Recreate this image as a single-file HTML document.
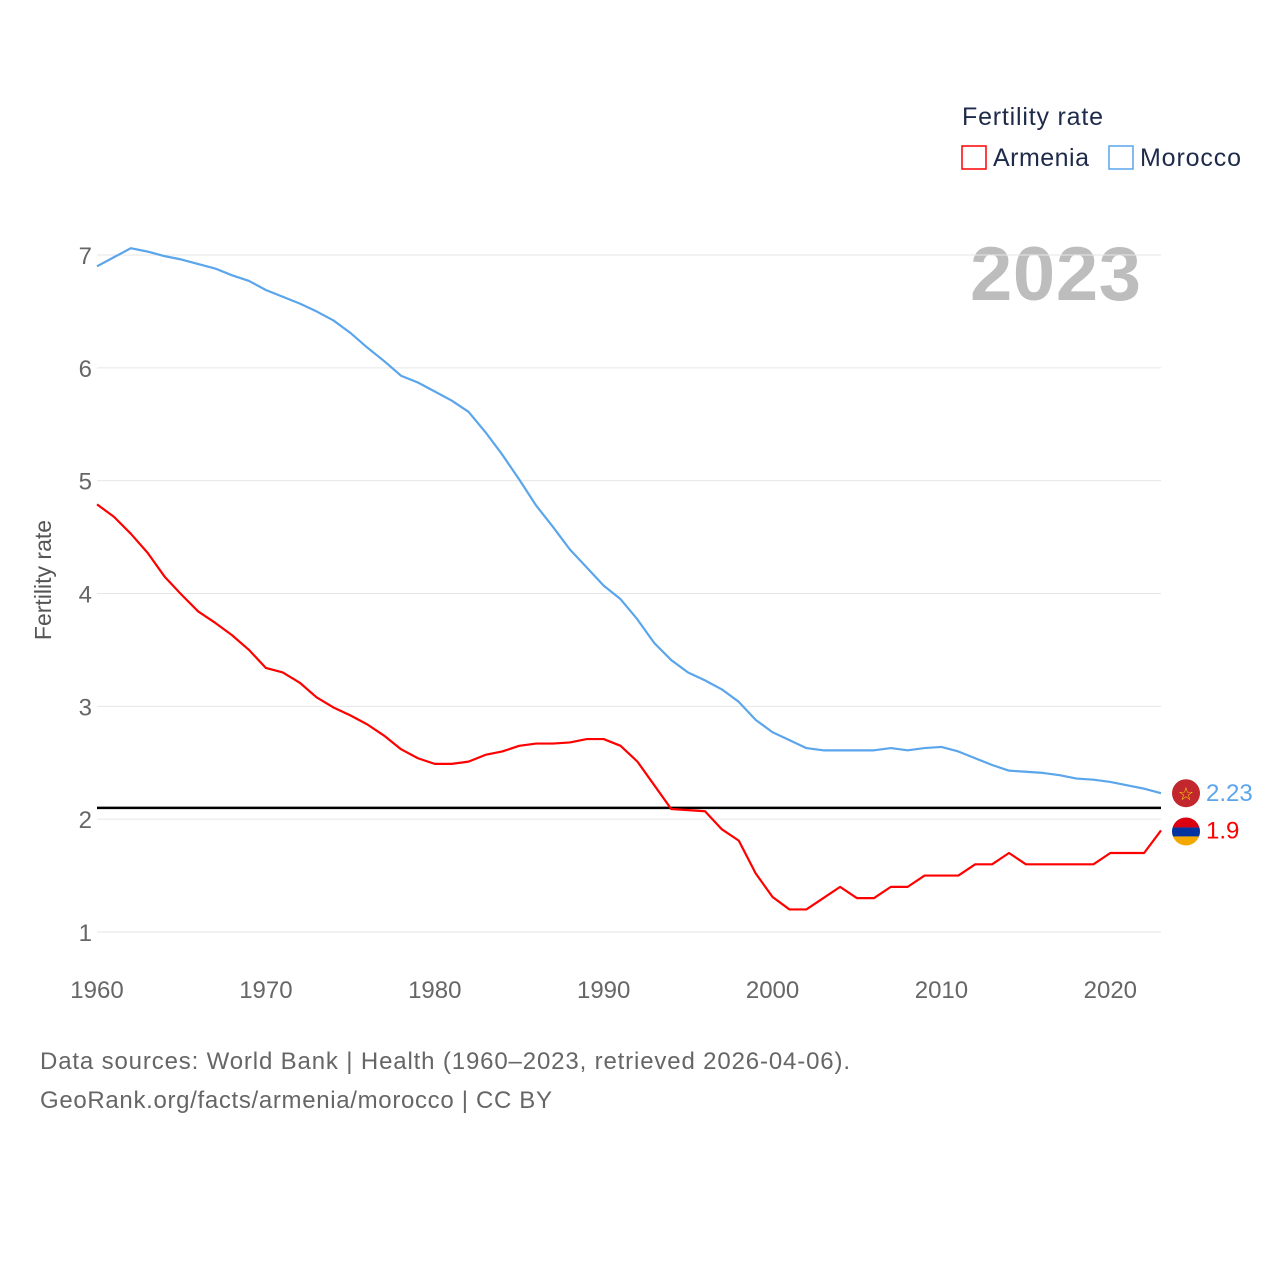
<!DOCTYPE html>
<html><head><meta charset="utf-8"><style>
body{margin:0;background:#fff;font-family:"Liberation Sans",sans-serif}
svg text{font-family:"Liberation Sans",sans-serif}
</style></head><body>
<svg id="chart" width="1280" height="1280" viewBox="0 0 1280 1280">
<text x="962" y="125" font-size="25" fill="#1d2a4a" textLength="141">Fertility rate</text>
<rect x="962" y="146" width="24" height="23" fill="none" stroke="#f00" stroke-width="1.5"/>
<text x="993" y="166" font-size="25" fill="#1d2a4a" textLength="96">Armenia</text>
<rect x="1109" y="146" width="24" height="23" fill="none" stroke="#5aa5eb" stroke-width="1.5"/>
<text x="1140" y="166" font-size="25" fill="#1d2a4a" textLength="101">Morocco</text>
<text x="970" y="300" font-size="76" font-weight="bold" fill="#bdbdbd" textLength="171">2023</text>
<text transform="translate(51,580) rotate(-90)" font-size="23" fill="#555" text-anchor="middle">Fertility rate</text>
<g id="grid"></g><g id="series"></g>
<text x="40" y="1069" font-size="24" fill="#666" textLength="810">Data sources: World Bank | Health (1960–2023, retrieved 2026-04-06).</text>
<text x="40" y="1108" font-size="24" fill="#666" textLength="512">GeoRank.org/facts/armenia/morocco | CC BY</text>
</svg>
<script>
const years=[];for(let y=1960;y<=2023;y++)years.push(y);
const armenia=[4.79,4.68,4.53,4.36,4.15,3.99,3.84,3.74,3.63,3.50,3.34,3.30,3.21,3.08,2.99,2.92,2.84,2.74,2.62,2.54,2.49,2.49,2.51,2.57,2.60,2.65,2.67,2.67,2.68,2.71,2.71,2.65,2.51,2.30,2.09,2.08,2.07,1.91,1.81,1.52,1.31,1.20,1.20,1.30,1.40,1.30,1.30,1.40,1.40,1.50,1.50,1.50,1.60,1.60,1.70,1.60,1.60,1.60,1.60,1.60,1.70,1.70,1.70,1.90];
const morocco=[6.90,6.98,7.06,7.03,6.99,6.96,6.92,6.88,6.82,6.77,6.69,6.63,6.57,6.50,6.42,6.31,6.18,6.06,5.93,5.87,5.79,5.71,5.61,5.43,5.23,5.01,4.78,4.59,4.39,4.23,4.07,3.95,3.77,3.56,3.41,3.30,3.23,3.15,3.04,2.88,2.77,2.70,2.63,2.61,2.61,2.61,2.61,2.63,2.61,2.63,2.64,2.60,2.54,2.48,2.43,2.42,2.41,2.39,2.36,2.35,2.33,2.30,2.27,2.23];
const yTicks=[1,2,3,4,5,6,7];
const xTicks=[1960,1970,1980,1990,2000,2010,2020];
const replacement=2.1;
const X=y=>97+(y-1960)*(1161-97)/63;
const Y=v=>932-(v-1)*(932-255)/6;
const NS="http://www.w3.org/2000/svg";
function mk(t,a,p){const e=document.createElementNS(NS,t);for(const k in a)e.setAttribute(k,a[k]);p.appendChild(e);return e;}
const g=document.getElementById('grid'),s=document.getElementById('series');
yTicks.forEach(v=>{
 const l=mk('line',{x1:97,x2:1161,y1:Y(v),y2:Y(v),stroke:'#e6e6e6','stroke-width':1},g);
 
 
 const t=mk('text',{x:92,y:Y(v)+9,'font-size':24,fill:'#666','text-anchor':'end'},g);t.textContent=v;
 
 
});
xTicks.forEach(v=>{
 const t=mk('text',{x:X(v),y:998,'font-size':24,fill:'#666','text-anchor':'middle'},g);t.textContent=v;
 
 
});
const rl=mk('line',{x1:97,x2:1161,y1:Y(replacement),y2:Y(replacement),stroke:'#000','stroke-width':2.5},g);


function line(d,c,name){const p=mk('polyline',{points:d.map((v,i)=>X(years[i])+','+Y(v)).join(' '),fill:'none',stroke:c,'stroke-width':2.2,'stroke-linejoin':'round'},s);
 
 }
line(morocco,'#5aa5eb','morocco-line');
line(armenia,'#f00','armenia-line');
const last=years.length-1;
const mf=mk('circle',{cx:1186,cy:Y(morocco[last]),r:14,fill:'#c1272d'},s);


const st=mk('text',{x:1186,y:Y(morocco[last])+7,'font-size':18,fill:'#f5d90a','text-anchor':'middle'},s);st.textContent='☆';


const ml=mk('text',{x:1206,y:Y(morocco[last])+8,'font-size':24,fill:'#5aa5eb'},s);ml.textContent=morocco[last].toFixed(2);


const ay=Y(armenia[last])+1;
const defs=mk('defs',{},s);const cp=mk('clipPath',{id:'ac'},defs);mk('circle',{cx:1186,cy:ay,r:14},cp);
const af=mk('g',{'clip-path':'url(#ac)'},s);


mk('rect',{x:1172,y:ay-14,width:28,height:10,fill:'#d90012'},af);
mk('rect',{x:1172,y:ay-4,width:28,height:9,fill:'#0033a0'},af);
mk('rect',{x:1172,y:ay+5,width:28,height:10,fill:'#f2a800'},af);
const al=mk('text',{x:1206,y:ay+7,'font-size':24,fill:'#f00'},s);al.textContent=armenia[last].toFixed(1);


</script>
</body></html>
